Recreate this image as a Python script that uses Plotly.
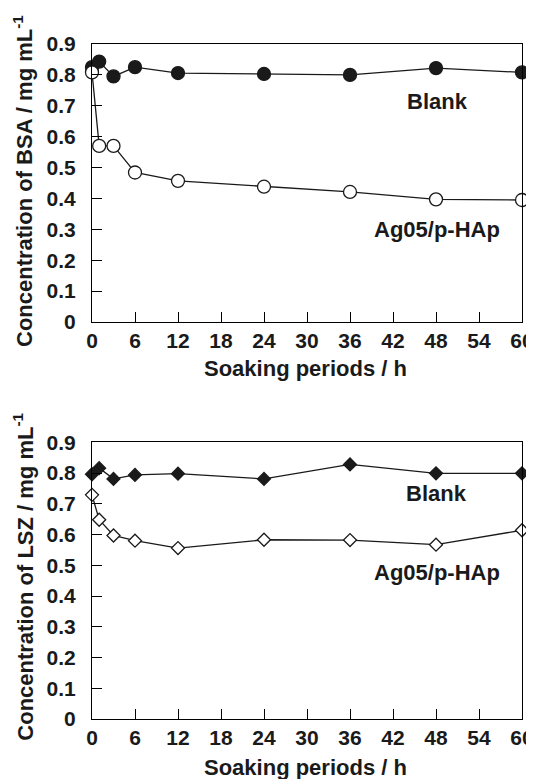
import plotly.graph_objects as go

# ---- data ----
hours = [0, 1, 3, 6, 12, 24, 36, 48, 60]
bsa_blank = [0.825, 0.843, 0.795, 0.825, 0.806, 0.803, 0.800, 0.822, 0.808]
bsa_ag05 = [0.808, 0.570, 0.570, 0.484, 0.457, 0.438, 0.421, 0.397, 0.395]
lsz_blank = [0.796, 0.816, 0.781, 0.794, 0.798, 0.781, 0.828, 0.799, 0.799]
lsz_ag05 = [0.729, 0.648, 0.597, 0.580, 0.556, 0.583, 0.582, 0.567, 0.614]
x_ticks = [0, 6, 12, 18, 24, 30, 36, 42, 48, 54, 60]
y_ticks = [0, 0.1, 0.2, 0.3, 0.4, 0.5, 0.6, 0.7, 0.8, 0.9]
x_title = "Soaking periods / h"
y_title_top = "Concentration of BSA / mg mL<sup>-1</sup>"
y_title_bottom = "Concentration of LSZ / mg mL<sup>-1</sup>"
series_names = ["Blank", "Ag05/p-HAp"]

FONT = "Liberation Sans, Arial, Helvetica, sans-serif"
INK = "#1a1a1a"

# the page has an 8px body margin, so the figure is 8px smaller than the window
W, H = 526, 771
ml, mr, mt, mb = 84, 12, 36, 60
pw = W - ml - mr
ph = H - mt - mb
top_dom = [1 - 278 / ph, 1]
bot_dom = [0, 1 - 398.3 / ph]

fig = go.Figure()

def add(x, y, symbol, filled, size, xa, ya):
    fig.add_trace(go.Scatter(
        x=x, y=y, xaxis=xa, yaxis=ya, mode="lines+markers", cliponaxis=False,
        showlegend=False,
        line=dict(color=INK, width=1.3),
        marker=dict(symbol=symbol, size=size,
                    color=INK if filled else "white",
                    line=dict(color=INK, width=1.3)),
    ))

add(hours, bsa_blank, "circle", True, 13, "x", "y")
add(hours, bsa_ag05, "circle", False, 13, "x", "y")
add(hours, lsz_blank, "diamond", True, 10, "x2", "y2")
add(hours, lsz_ag05, "diamond", False, 10, "x2", "y2")

tick_font = dict(family=FONT, size=21, color=INK, weight="bold")

def xaxis(anchor):
    return dict(anchor=anchor, domain=[0, 1], range=[0, 60], tickmode="array",
                tickvals=x_ticks, ticktext=[str(v) for v in x_ticks],
                showline=True, linecolor="black", linewidth=1, mirror=True,
                ticks="inside", ticklen=10, tickwidth=1, tickcolor="black",
                showgrid=False, zeroline=False, tickfont=tick_font)

def yaxis(anchor, dom):
    return dict(anchor=anchor, domain=dom, range=[0, 0.9], tickmode="array",
                tickvals=y_ticks, ticktext=[f"{v:g}" for v in y_ticks],
                showline=True, linecolor="black", linewidth=1, mirror=True,
                ticks="inside", ticklen=10, tickwidth=1, tickcolor="black",
                showgrid=False, zeroline=False, tickfont=tick_font,
                ticklabelstandoff=11)

title_font = dict(family=FONT, size=22, color=INK, weight="bold")

def py(fig_y):
    return 1 - (fig_y - mt) / ph

def px(fig_x):
    return (fig_x - ml) / pw

annotations = []
for x, y, t, ang in [
    (px(297), py(361), x_title, 0),
    (px(297), py(759), x_title, 0),
    (px(15), py(173), y_title_top, -90),
    (px(15), py(568.7), y_title_bottom, -90),
]:
    annotations.append(dict(x=x, y=y, xref="paper", yref="paper", text=t, textangle=ang,
                            showarrow=False, font=title_font,
                            xanchor="center", yanchor="middle"))

for xr, yr, x, y, t in [
    ("x", "y", 48.2, 0.713, series_names[0]),
    ("x", "y", 48.2, 0.299, series_names[1]),
    ("x2", "y2", 48.1, 0.735, series_names[0]),
    ("x2", "y2", 48.1, 0.476, series_names[1]),
]:
    annotations.append(dict(x=x, y=y, xref=xr, yref=yr, text=t, showarrow=False,
                            font=title_font))

fig.update_layout(
    template="none",
    width=W, height=H, autosize=False,
    margin=dict(l=ml, r=mr, t=mt, b=mb),
    paper_bgcolor="white", plot_bgcolor="white",
    xaxis=xaxis("y"), yaxis=yaxis("x", top_dom),
    xaxis2=xaxis("y2"), yaxis2=yaxis("x2", bot_dom),
    annotations=annotations,
)

fig.write_html("out.html")
